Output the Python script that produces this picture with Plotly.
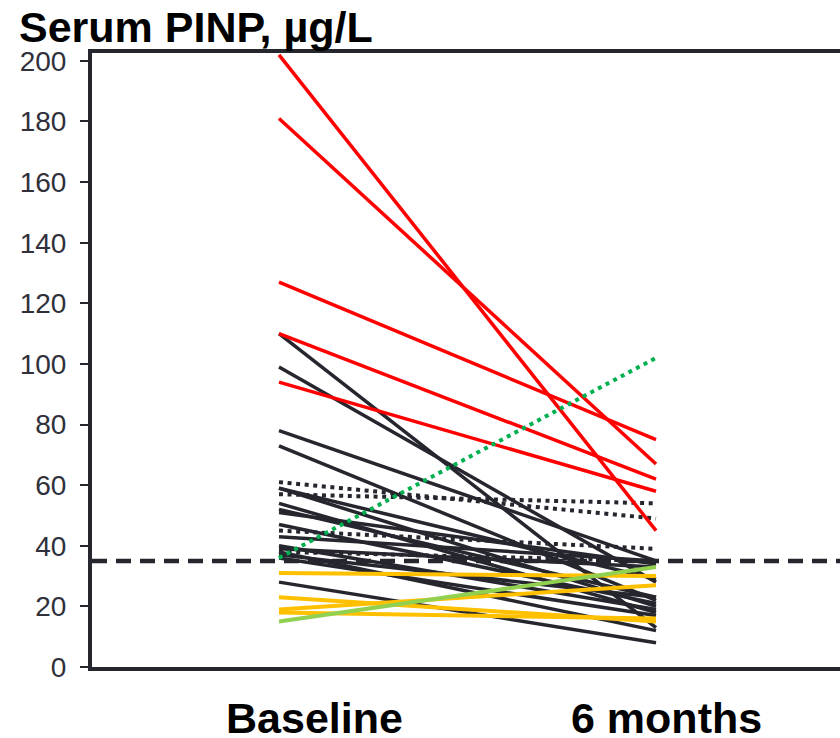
import plotly.graph_objects as go

# Time points (category positions on a numeric axis)
timepoints = ["Baseline", "6 months"]
time_x = [1, 2]

# Serum PINP (µg/L) per patient: [baseline, 6 months]
red_pairs = [(202, 45), (181, 67), (127, 75), (110, 62), (94, 58)]
black_pairs = [
    (110, 13), (99, 28), (78, 35), (73, 22), (59, 20), (59, 29),
    (54, 18), (52, 23), (51, 34), (47, 21), (43, 35), (40, 19),
    (39, 33), (38, 12), (37, 23), (36, 17), (28, 8),
]
black_dotted_pairs = [(61, 49), (57, 54), (45, 39), (38, 35)]
yellow_pairs = [(31, 30), (23, 15), (19, 27), (18, 16)]
lightgreen_pairs = [(15, 33)]
green_dotted_pairs = [(36, 102)]

threshold = 35  # reference level

y_ticks = [0, 20, 40, 60, 80, 100, 120, 140, 160, 180, 200]

DARK = "#26262f"
FONT = "Liberation Sans, Arial, sans-serif"


def group_xy(pairs):
    xs, ys = [], []
    for b, m in pairs:
        xs += [time_x[0], time_x[1], None]
        ys += [b, m, None]
    return xs, ys


fig = go.Figure()

groups = [
    (black_pairs, DARK, None, 3.5),
    (black_dotted_pairs, DARK, "4px,4.6px", 4),
    (red_pairs, "#ff0000", None, 3.5),
    (yellow_pairs, "#ffc000", None, 4),
    (lightgreen_pairs, "#92d050", None, 4),
    (green_dotted_pairs, "#00b050", "4px,4.6px", 4),
]
for pairs, color, dash, width in groups:
    xs, ys = group_xy(pairs)
    fig.add_trace(go.Scatter(
        x=xs, y=ys, mode="lines",
        line=dict(color=color, width=width, dash=dash),
        hoverinfo="skip", showlegend=False,
    ))

# dashed reference line across the plot
fig.add_shape(
    type="line", xref="paper", yref="y", x0=0, x1=1,
    y0=threshold, y1=threshold, layer="above",
    line=dict(color=DARK, width=4.5, dash="15px,9px"),
)

# title
fig.add_annotation(
    text="<b>Serum PINP, µg/L</b>", xref="paper", yref="paper",
    x=-0.1, y=1.0, xanchor="left", yanchor="bottom", yshift=0,
    showarrow=False, font=dict(family=FONT, size=43, color="#000000"),
)

# time point labels
label_x = [1.093, 2.028]
for lx, txt in zip(label_x, timepoints):
    fig.add_annotation(
        text=f"<b>{txt}</b>", xref="x", yref="paper",
        x=lx, y=0, yshift=-77, xanchor="center", yanchor="bottom",
        showarrow=False, font=dict(family=FONT, size=43, color="#000000"),
    )

fig.update_xaxes(
    range=[0.504, 2.488], showgrid=False, zeroline=False,
    showticklabels=False, ticks="",
    showline=True, linecolor=DARK, linewidth=4, mirror=True,
)
fig.update_yaxes(
    range=[0, 202.6], tickvals=y_ticks, ticktext=[str(v) for v in y_ticks],
    showgrid=False, zeroline=False,
    ticks="outside", ticklen=8, tickwidth=2, tickcolor=DARK,
    ticklabelstandoff=8,
    tickfont=dict(family=FONT, size=28, color="#30303a"),
    showline=True, linecolor=DARK, linewidth=4, mirror=False,
)

fig.update_layout(
    width=840, height=738,
    margin=dict(l=92, r=0, t=53, b=71),
    paper_bgcolor="white", plot_bgcolor="white",
)

fig.write_html("out.html")
